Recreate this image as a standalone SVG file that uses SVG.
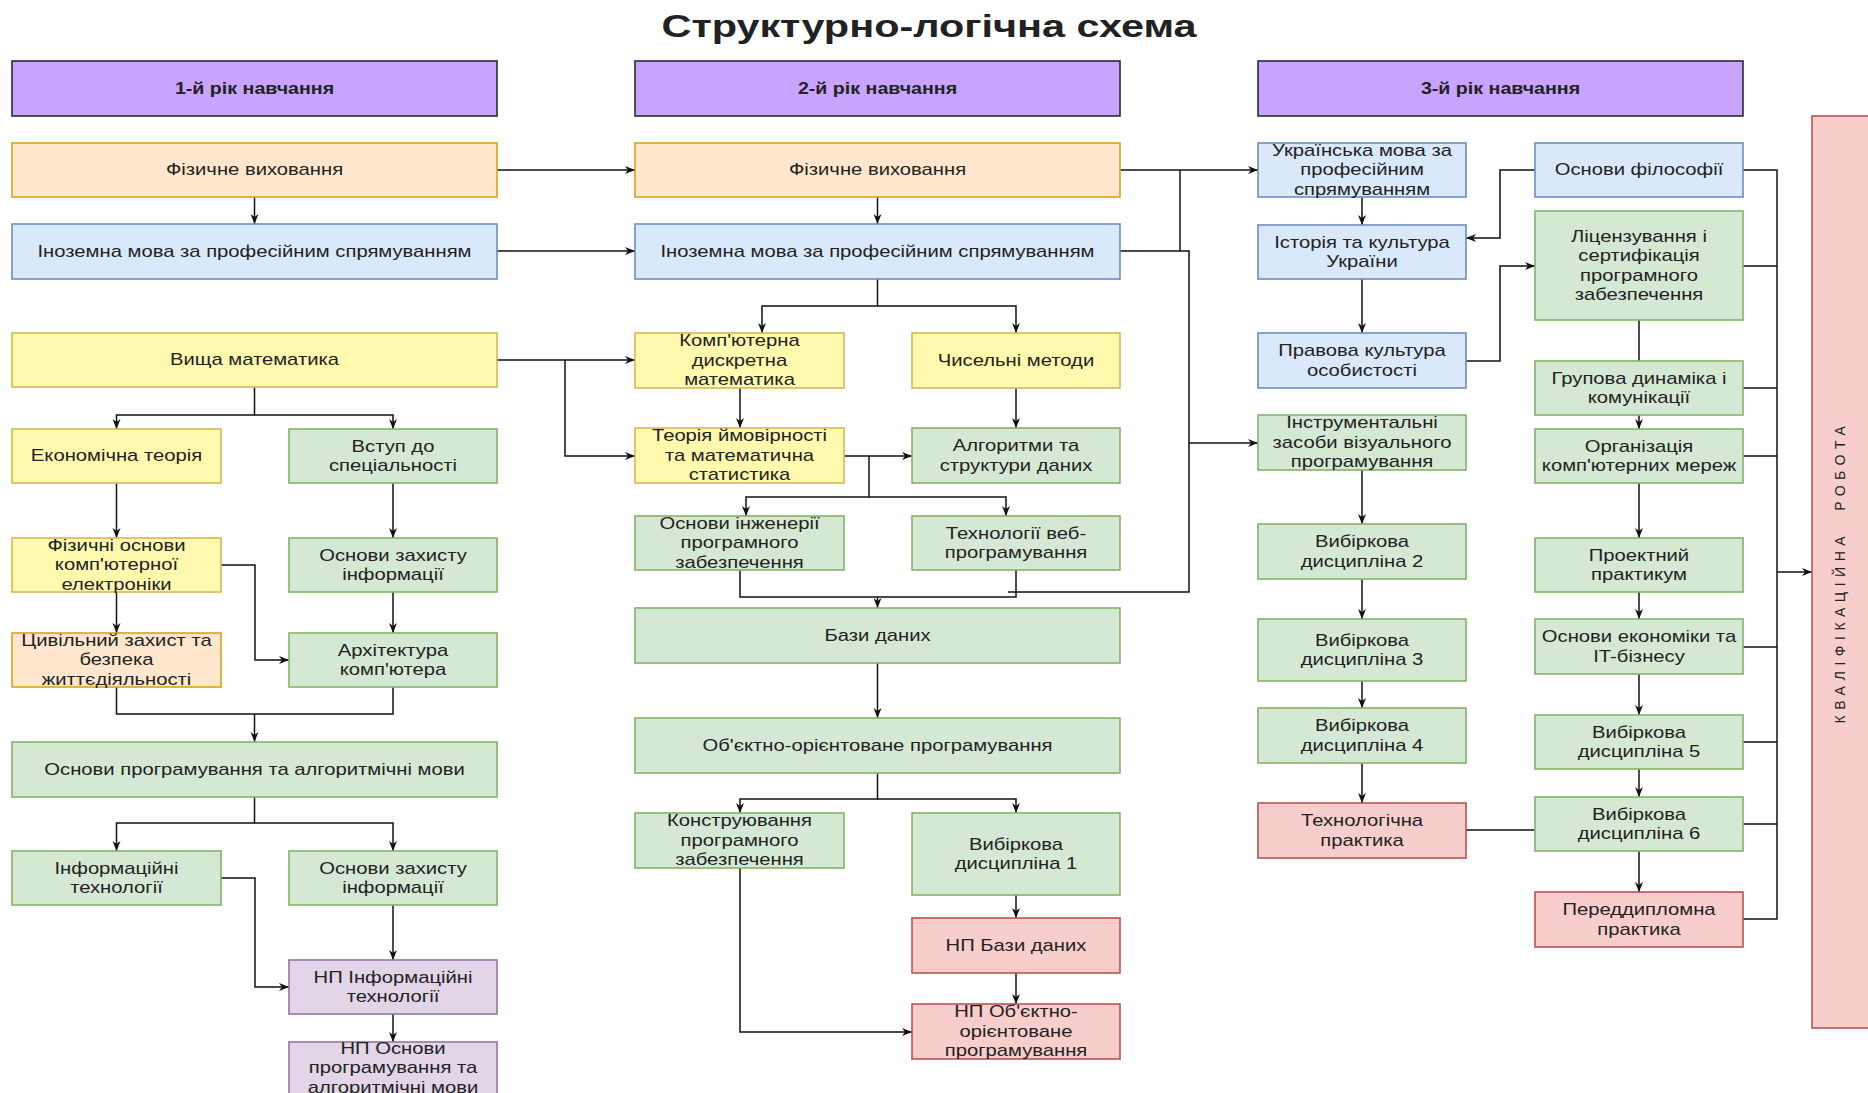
<svg xmlns="http://www.w3.org/2000/svg" width="1868" height="1093" viewBox="0 0 1868 1093">
<defs>
<marker id="arr" markerUnits="userSpaceOnUse" markerWidth="11" markerHeight="11" refX="10" refY="5" orient="auto">
<path d="M0,1 L10,5 L0,9 L3,5 z" fill="#111"/>
</marker>
<style>
rect{stroke-width:1.6}
.hd{fill:#c8a3ff;stroke:#2b2b2b}
.o{fill:#ffe6cc;stroke:#d9a21a}
.b{fill:#dae8fc;stroke:#6c8ebf}
.y{fill:#fff9ae;stroke:#d6b656}
.g{fill:#d5e8d4;stroke:#82b366}
.r{fill:#f8cecc;stroke:#b85450}
.p{fill:#e1d5e7;stroke:#9673a6}
text{font-family:"Liberation Sans",Arial,sans-serif;fill:#222;text-anchor:middle}
.t{font-size:17px}
.h{font-size:16.5px;font-weight:bold}
.c{fill:none;stroke:#111;stroke-width:1.5}
.a{marker-end:url(#arr)}
</style>
</defs>
<rect width="1868" height="1093" fill="#ffffff"/>
<text x="929" y="37" font-size="31" font-weight="bold" textLength="535" lengthAdjust="spacingAndGlyphs" fill="#111">Структурно-логічна схема</text>

<g id="connectors">
<path class="c a" d="M254.5,197 V224"/>
<path class="c a" d="M497,170 H635"/>
<path class="c a" d="M497,251 H635"/>
<path class="c a" d="M497,360 H635"/>
<path class="c a" d="M565,360 V456 H635"/>
<path class="c a" d="M254.5,387 V415 H116.5 V429"/>
<path class="c a" d="M254.5,415 H393 V429"/>
<path class="c a" d="M116.5,483 V538"/>
<path class="c a" d="M393,483 V538"/>
<path class="c a" d="M116.5,592 V633"/>
<path class="c a" d="M393,592 V633"/>
<path class="c a" d="M221,565 H255 V660 H289"/>
<path class="c" d="M116.5,687 V714 H393 V687"/>
<path class="c a" d="M254.5,714 V742"/>
<path class="c a" d="M254.5,797 V823 H116.5 V851"/>
<path class="c a" d="M254.5,823 H393 V851"/>
<path class="c a" d="M221,878 H255 V987 H289"/>
<path class="c a" d="M393,905 V960"/>
<path class="c a" d="M393,1014 V1042"/>

<path class="c a" d="M877.5,197 V224"/>
<path class="c a" d="M1120,170 H1258"/>
<path class="c" d="M1180,170 V251"/>
<path class="c" d="M1120,251 H1189 V592 H1008"/>
<path class="c a" d="M1189,443 H1258"/>
<path class="c a" d="M877.5,279 V306 H762 V333"/>
<path class="c a" d="M877.5,306 H1016 V333"/>
<path class="c a" d="M740,388 V428"/>
<path class="c a" d="M1016,388 V428"/>
<path class="c a" d="M844,456 H912"/>
<path class="c a" d="M869,456 V497 H746 V516"/>
<path class="c a" d="M869,497 H1006 V516"/>
<path class="c" d="M740,570 V597 H1016 V570"/>
<path class="c a" d="M877.5,597 V608"/>
<path class="c a" d="M877.5,663 V718"/>
<path class="c a" d="M877.5,773 V799 H740 V813"/>
<path class="c a" d="M877.5,799 H1016 V813"/>
<path class="c a" d="M740,868 V1032 H912"/>
<path class="c a" d="M1016,895 V918"/>
<path class="c a" d="M1016,973 V1004"/>

<path class="c a" d="M1362,197 V225"/>
<path class="c a" d="M1535,170 H1500 V238 H1466"/>
<path class="c a" d="M1362,279 V333"/>
<path class="c a" d="M1466,361 H1500 V266 H1535"/>
<path class="c" d="M1639,320 V361"/>
<path class="c a" d="M1639,415 V429"/>
<path class="c a" d="M1639,483 V538"/>
<path class="c a" d="M1639,592 V619"/>
<path class="c a" d="M1639,674 V715"/>
<path class="c a" d="M1639,769 V797"/>
<path class="c a" d="M1639,851 V892"/>
<path class="c a" d="M1362,470 V524"/>
<path class="c a" d="M1362,579 V619"/>
<path class="c a" d="M1362,681 V708"/>
<path class="c a" d="M1362,763 V803"/>
<path class="c" d="M1466,830 H1535"/>
<path class="c" d="M1743,170 H1777 V919 H1743 M1743,266 H1777 M1743,388 H1777 M1743,456 H1777 M1743,647 H1777 M1743,742 H1777 M1743,824 H1777"/>
<path class="c a" d="M1777,572 H1812"/>
</g>

<g id="h1"><rect class="hd" x="12" y="61" width="485" height="55"/><text class="h" transform="translate(254.5 0) scale(1.19 1)" x="0" y="94">1-й рік навчання</text></g>
<g id="h2"><rect class="hd" x="635" y="61" width="485" height="55"/><text class="h" transform="translate(877.5 0) scale(1.19 1)" x="0" y="94">2-й рік навчання</text></g>
<g id="h3"><rect class="hd" x="1258" y="61" width="485" height="55"/><text class="h" transform="translate(1500.5 0) scale(1.19 1)" x="0" y="94">3-й рік навчання</text></g>

<g id="fv1"><rect class="o" x="12" y="143" width="485" height="54"/><text class="t" transform="translate(254.5 0) scale(1.19 1)" x="0" y="175.5">Фізичне виховання</text></g>
<g id="im1"><rect class="b" x="12" y="224" width="485" height="55"/><text class="t" transform="translate(254.5 0) scale(1.19 1)" x="0" y="257">Іноземна мова за професійним спрямуванням</text></g>
<g id="vm"><rect class="y" x="12" y="333" width="485" height="54"/><text class="t" transform="translate(254.5 0) scale(1.19 1)" x="0" y="365.5">Вища математика</text></g>
<g id="et"><rect class="y" x="12" y="429" width="209" height="54"/><text class="t" transform="translate(116.5 0) scale(1.19 1)" x="0" y="461.5">Економічна теорія</text></g>
<g id="vs"><rect class="g" x="289" y="429" width="208" height="54"/><text class="t" transform="translate(393 0) scale(1.19 1)"><tspan x="0" y="451.75">Вступ до</tspan><tspan x="0" y="471.25">спеціальності</tspan></text></g>
<g id="fo"><rect class="y" x="12" y="538" width="209" height="54"/><text class="t" transform="translate(116.5 0) scale(1.19 1)"><tspan x="0" y="551">Фізичні основи</tspan><tspan x="0" y="570.5">комп'ютерної</tspan><tspan x="0" y="590">електроніки</tspan></text></g>
<g id="ozi1"><rect class="g" x="289" y="538" width="208" height="54"/><text class="t" transform="translate(393 0) scale(1.19 1)"><tspan x="0" y="560.75">Основи захисту</tspan><tspan x="0" y="580.25">інформації</tspan></text></g>
<g id="cz"><rect class="o" x="12" y="633" width="209" height="54"/><text class="t" transform="translate(116.5 0) scale(1.19 1)"><tspan x="0" y="646">Цивільний захист та</tspan><tspan x="0" y="665.5">безпека</tspan><tspan x="0" y="685">життєдіяльності</tspan></text></g>
<g id="ak"><rect class="g" x="289" y="633" width="208" height="54"/><text class="t" transform="translate(393 0) scale(1.19 1)"><tspan x="0" y="655.75">Архітектура</tspan><tspan x="0" y="675.25">комп'ютера</tspan></text></g>
<g id="op"><rect class="g" x="12" y="742" width="485" height="55"/><text class="t" transform="translate(254.5 0) scale(1.19 1)" x="0" y="775">Основи програмування та алгоритмічні мови</text></g>
<g id="it"><rect class="g" x="12" y="851" width="209" height="54"/><text class="t" transform="translate(116.5 0) scale(1.19 1)"><tspan x="0" y="873.75">Інформаційні</tspan><tspan x="0" y="893.25">технології</tspan></text></g>
<g id="ozi2"><rect class="g" x="289" y="851" width="208" height="54"/><text class="t" transform="translate(393 0) scale(1.19 1)"><tspan x="0" y="873.75">Основи захисту</tspan><tspan x="0" y="893.25">інформації</tspan></text></g>
<g id="npit"><rect class="p" x="289" y="960" width="208" height="54"/><text class="t" transform="translate(393 0) scale(1.19 1)"><tspan x="0" y="982.75">НП Інформаційні</tspan><tspan x="0" y="1002.25">технології</tspan></text></g>
<g id="npop"><rect class="p" x="289" y="1042" width="208" height="54"/><text class="t" transform="translate(393 0) scale(1.19 1)"><tspan x="0" y="1054">НП Основи</tspan><tspan x="0" y="1073.5">програмування та</tspan><tspan x="0" y="1093">алгоритмічні мови</tspan></text></g>

<g id="fv2"><rect class="o" x="635" y="143" width="485" height="54"/><text class="t" transform="translate(877.5 0) scale(1.19 1)" x="0" y="175.5">Фізичне виховання</text></g>
<g id="im2"><rect class="b" x="635" y="224" width="485" height="55"/><text class="t" transform="translate(877.5 0) scale(1.19 1)" x="0" y="257">Іноземна мова за професійним спрямуванням</text></g>
<g id="kdm"><rect class="y" x="635" y="333" width="209" height="55"/><text class="t" transform="translate(739.5 0) scale(1.19 1)"><tspan x="0" y="346.5">Комп'ютерна</tspan><tspan x="0" y="366">дискретна</tspan><tspan x="0" y="385.5">математика</tspan></text></g>
<g id="cm"><rect class="y" x="912" y="333" width="208" height="55"/><text class="t" transform="translate(1016 0) scale(1.19 1)" x="0" y="366">Чисельні методи</text></g>
<g id="tim"><rect class="y" x="635" y="428" width="209" height="55"/><text class="t" transform="translate(739.5 0) scale(1.19 1)"><tspan x="0" y="441.5">Теорія ймовірності</tspan><tspan x="0" y="461">та математична</tspan><tspan x="0" y="480.5">статистика</tspan></text></g>
<g id="asd"><rect class="g" x="912" y="428" width="208" height="55"/><text class="t" transform="translate(1016 0) scale(1.19 1)"><tspan x="0" y="451.25">Алгоритми та</tspan><tspan x="0" y="470.75">структури даних</tspan></text></g>
<g id="oipz"><rect class="g" x="635" y="516" width="209" height="54"/><text class="t" transform="translate(739.5 0) scale(1.19 1)"><tspan x="0" y="529">Основи інженерії</tspan><tspan x="0" y="548.5">програмного</tspan><tspan x="0" y="568">забезпечення</tspan></text></g>
<g id="tvp"><rect class="g" x="912" y="516" width="208" height="54"/><text class="t" transform="translate(1016 0) scale(1.19 1)"><tspan x="0" y="538.75">Технології веб-</tspan><tspan x="0" y="558.25">програмування</tspan></text></g>
<g id="bd"><rect class="g" x="635" y="608" width="485" height="55"/><text class="t" transform="translate(877.5 0) scale(1.19 1)" x="0" y="641">Бази даних</text></g>
<g id="oop"><rect class="g" x="635" y="718" width="485" height="55"/><text class="t" transform="translate(877.5 0) scale(1.19 1)" x="0" y="751">Об'єктно-орієнтоване програмування</text></g>
<g id="kpz"><rect class="g" x="635" y="813" width="209" height="55"/><text class="t" transform="translate(739.5 0) scale(1.19 1)"><tspan x="0" y="826.5">Конструювання</tspan><tspan x="0" y="846">програмного</tspan><tspan x="0" y="865.5">забезпечення</tspan></text></g>
<g id="vd1"><rect class="g" x="912" y="813" width="208" height="82"/><text class="t" transform="translate(1016 0) scale(1.19 1)"><tspan x="0" y="849.75">Вибіркова</tspan><tspan x="0" y="869.25">дисципліна 1</tspan></text></g>
<g id="npbd"><rect class="r" x="912" y="918" width="208" height="55"/><text class="t" transform="translate(1016 0) scale(1.19 1)" x="0" y="951">НП Бази даних</text></g>
<g id="npoop"><rect class="r" x="912" y="1004" width="208" height="55"/><text class="t" transform="translate(1016 0) scale(1.19 1)"><tspan x="0" y="1017.5">НП Об'єктно-</tspan><tspan x="0" y="1037">орієнтоване</tspan><tspan x="0" y="1056.5">програмування</tspan></text></g>

<g id="um"><rect class="b" x="1258" y="143" width="208" height="54"/><text class="t" transform="translate(1362 0) scale(1.19 1)"><tspan x="0" y="156">Українська мова за</tspan><tspan x="0" y="175.5">професійним</tspan><tspan x="0" y="195">спрямуванням</tspan></text></g>
<g id="of"><rect class="b" x="1535" y="143" width="208" height="54"/><text class="t" transform="translate(1639 0) scale(1.19 1)" x="0" y="175.5">Основи філософії</text></g>
<g id="ik"><rect class="b" x="1258" y="225" width="208" height="54"/><text class="t" transform="translate(1362 0) scale(1.19 1)"><tspan x="0" y="247.75">Історія та культура</tspan><tspan x="0" y="267.25">України</tspan></text></g>
<g id="ls"><rect class="g" x="1535" y="211" width="208" height="109"/><text class="t" transform="translate(1639 0) scale(1.19 1)"><tspan x="0" y="241.75">Ліцензування і</tspan><tspan x="0" y="261.25">сертифікація</tspan><tspan x="0" y="280.75">програмного</tspan><tspan x="0" y="300.25">забезпечення</tspan></text></g>
<g id="pk"><rect class="b" x="1258" y="333" width="208" height="55"/><text class="t" transform="translate(1362 0) scale(1.19 1)"><tspan x="0" y="356.25">Правова культура</tspan><tspan x="0" y="375.75">особистості</tspan></text></g>
<g id="gd"><rect class="g" x="1535" y="361" width="208" height="54"/><text class="t" transform="translate(1639 0) scale(1.19 1)"><tspan x="0" y="383.75">Групова динаміка і</tspan><tspan x="0" y="403.25">комунікації</tspan></text></g>
<g id="iz"><rect class="g" x="1258" y="415" width="208" height="55"/><text class="t" transform="translate(1362 0) scale(1.19 1)"><tspan x="0" y="428.5">Інструментальні</tspan><tspan x="0" y="448">засоби візуального</tspan><tspan x="0" y="467.5">програмування</tspan></text></g>
<g id="ok"><rect class="g" x="1535" y="429" width="208" height="54"/><text class="t" transform="translate(1639 0) scale(1.19 1)"><tspan x="0" y="451.75">Організація</tspan><tspan x="0" y="471.25">комп'ютерних мереж</tspan></text></g>
<g id="vd2"><rect class="g" x="1258" y="524" width="208" height="55"/><text class="t" transform="translate(1362 0) scale(1.19 1)"><tspan x="0" y="547.25">Вибіркова</tspan><tspan x="0" y="566.75">дисципліна 2</tspan></text></g>
<g id="pp"><rect class="g" x="1535" y="538" width="208" height="54"/><text class="t" transform="translate(1639 0) scale(1.19 1)"><tspan x="0" y="560.75">Проектний</tspan><tspan x="0" y="580.25">практикум</tspan></text></g>
<g id="vd3"><rect class="g" x="1258" y="619" width="208" height="62"/><text class="t" transform="translate(1362 0) scale(1.19 1)"><tspan x="0" y="645.75">Вибіркова</tspan><tspan x="0" y="665.25">дисципліна 3</tspan></text></g>
<g id="oe"><rect class="g" x="1535" y="619" width="208" height="55"/><text class="t" transform="translate(1639 0) scale(1.19 1)"><tspan x="0" y="642.25">Основи економіки та</tspan><tspan x="0" y="661.75">IT-бізнесу</tspan></text></g>
<g id="vd4"><rect class="g" x="1258" y="708" width="208" height="55"/><text class="t" transform="translate(1362 0) scale(1.19 1)"><tspan x="0" y="731.25">Вибіркова</tspan><tspan x="0" y="750.75">дисципліна 4</tspan></text></g>
<g id="vd5"><rect class="g" x="1535" y="715" width="208" height="54"/><text class="t" transform="translate(1639 0) scale(1.19 1)"><tspan x="0" y="737.75">Вибіркова</tspan><tspan x="0" y="757.25">дисципліна 5</tspan></text></g>
<g id="tp"><rect class="r" x="1258" y="803" width="208" height="55"/><text class="t" transform="translate(1362 0) scale(1.19 1)"><tspan x="0" y="826.25">Технологічна</tspan><tspan x="0" y="845.75">практика</tspan></text></g>
<g id="vd6"><rect class="g" x="1535" y="797" width="208" height="54"/><text class="t" transform="translate(1639 0) scale(1.19 1)"><tspan x="0" y="819.75">Вибіркова</tspan><tspan x="0" y="839.25">дисципліна 6</tspan></text></g>
<g id="pdp"><rect class="r" x="1535" y="892" width="208" height="55"/><text class="t" transform="translate(1639 0) scale(1.19 1)"><tspan x="0" y="915.25">Переддипломна</tspan><tspan x="0" y="934.75">практика</tspan></text></g>
<g id="kr"><rect class="r" x="1812" y="116" width="80" height="912"/><text transform="translate(1845 572) rotate(-90)" x="0" y="0" font-size="14" letter-spacing="5.5" fill="#333">КВАЛІФІКАЦІЙНА<tspan dx="20">РОБОТА</tspan></text></g>
</svg>
